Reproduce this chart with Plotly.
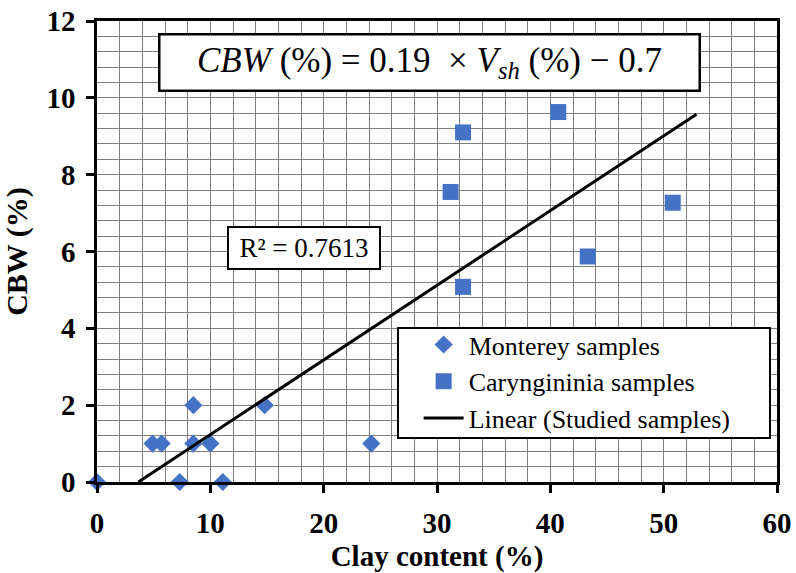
import plotly.graph_objects as go

# Data
monterey_x = [0.0, 4.9, 5.7, 7.3, 8.5, 8.5, 10.0, 11.1, 14.8, 24.2]
monterey_y = [0.0, 1.0, 1.0, 0.0, 1.0, 2.0, 1.0, 0.0, 2.0, 1.0]
caryn_x = [32.3, 40.7, 31.2, 50.8, 43.3, 32.3]
caryn_y = [9.1, 9.63, 7.55, 7.27, 5.87, 5.08]
trend_x = [3.65, 52.9]
trend_y = [0.0, 9.57]

x_ticks = [0, 10, 20, 30, 40, 50, 60]
y_ticks = [0, 2, 4, 6, 8, 10, 12]

BLUE = "#4472C4"
SERIF = "Liberation Serif"
GRID = "#7f7f7f"

fig = go.Figure()
fig.add_trace(go.Scatter(
    x=monterey_x, y=monterey_y, mode="markers", name="Monterey samples",
    marker=dict(symbol="diamond", size=14, color=BLUE, line=dict(width=0)),
    cliponaxis=False,
))
fig.add_trace(go.Scatter(
    x=caryn_x, y=caryn_y, mode="markers", name="Caryngininia samples",
    marker=dict(symbol="square", size=16, color=BLUE, line=dict(width=0)),
    cliponaxis=False,
))
fig.add_trace(go.Scatter(
    x=trend_x, y=trend_y, mode="lines", name="Linear (Studied samples)",
    line=dict(color="black", width=3),
))

axis_common = dict(
    showline=True, linecolor="black", linewidth=2.5, mirror=True,
    ticks="outside", ticklen=8, tickwidth=2.5, tickcolor="black",
    showgrid=True, gridcolor=GRID, gridwidth=1.2,
    zeroline=False, ticklabelstandoff=5, automargin=False,
    tickfont=dict(family=SERIF, size=29, color="black", weight="bold"),
)

fig.update_xaxes(
    range=[0, 60], tickvals=x_ticks, ticktext=[str(v) for v in x_ticks],
    minor=dict(dtick=2, showgrid=True, gridcolor=GRID, gridwidth=1.2, ticks=""),
    title=dict(text="Clay content (%)", standoff=10,
               font=dict(family=SERIF, size=29, color="black", weight="bold")),
    **axis_common,
)
fig.update_yaxes(
    range=[0, 12], tickvals=y_ticks, ticktext=[str(v) for v in y_ticks],
    minor=dict(dtick=0.4, showgrid=True, gridcolor=GRID, gridwidth=1.2, ticks=""),
    title=dict(text="CBW (%)", standoff=14,
               font=dict(family=SERIF, size=30, color="black", weight="bold")),
    **axis_common,
)

fig.add_annotation(
    x=29.3, y=10.93, xref="x", yref="y", showarrow=False,
    text="<i>CBW</i> (%) = 0.19 \u00a0× <i>V</i><sub><i>sh</i></sub> (%) − 0.7",
    font=dict(family=SERIF, size=35, color="black"),
    bgcolor="white", bordercolor="black", borderwidth=2.5,
    width=536, height=52,
)
fig.add_annotation(
    x=18.26, y=6.1, xref="x", yref="y", showarrow=False,
    text="R² = 0.7613",
    font=dict(family=SERIF, size=27, color="black"),
    bgcolor="white", bordercolor="black", borderwidth=2,
    width=148, height=38,
)

# legend frame
fig.add_shape(
    type="rect", xref="paper", yref="paper",
    x0=0.4426, x1=0.9897, y0=0.0954, y1=0.334,
    fillcolor="white", line=dict(color="black", width=2), layer="above",
)

fig.update_layout(
    width=796, height=573,
    margin=dict(l=97, r=19, t=21, b=91),
    paper_bgcolor="white", plot_bgcolor="white",
    showlegend=True,
    legend=dict(
        x=0.473, y=0.349, xanchor="left", yanchor="top",
        bgcolor="rgba(0,0,0,0)", borderwidth=0,
        font=dict(family=SERIF, size=26, color="black"),
        itemwidth=40, tracegroupgap=0,
    ),
)

fig.write_html("out.html")
